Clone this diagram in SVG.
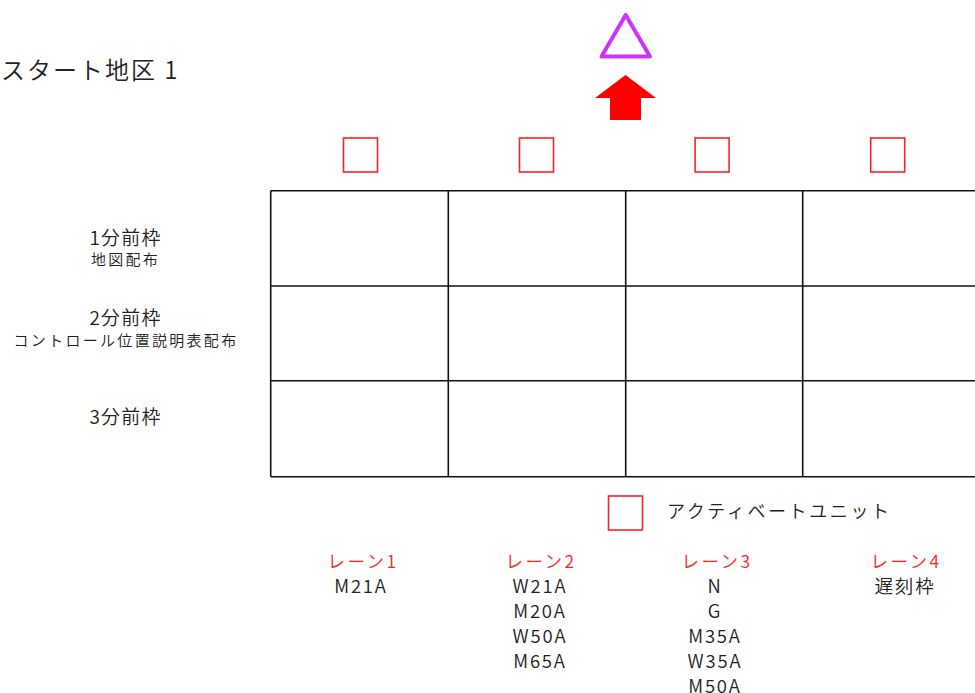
<svg xmlns="http://www.w3.org/2000/svg" width="975" height="693" viewBox="0 0 975 693">
<style>
text{font-family:"Noto Sans CJK JP","Noto Sans",sans-serif;fill:#222;font-weight:350;}
.title{font-size:24px;letter-spacing:2px;}
.row{font-size:19px;text-anchor:middle;letter-spacing:1.2px;}
.sub{font-size:15px;text-anchor:middle;letter-spacing:2.3px;}
.lane{font-size:17.5px;text-anchor:middle;fill:#f22;letter-spacing:2.4px;}
.item{font-size:18.5px;text-anchor:middle;letter-spacing:1.8px;}
.legend{font-size:18px;letter-spacing:2.6px;}
.unit{fill:none;stroke:#f22;stroke-width:1.6;}
.grid{fill:none;stroke:#111;stroke-width:1.6;}
</style>
<rect width="975" height="693" fill="#fff"/>
<g id="title"><text class="title" x="1" y="79">スタート地区 1</text></g>
<g id="goal-triangle"><polygon points="625.7,15 601.5,56.5 650,56.5" fill="none" stroke="#cc33ff" stroke-width="4" stroke-linejoin="round"/></g>
<g id="direction-arrow"><polygon points="625.5,75 656,98 641,98 641,120 610,120 610,98 595,98" fill="#ff0000"/></g>
<g id="units">
<rect class="unit" x="343.5" y="138" width="34" height="34"/>
<rect class="unit" x="519.5" y="138" width="34" height="34"/>
<rect class="unit" x="695.1" y="138" width="34" height="34"/>
<rect class="unit" x="870.7" y="138" width="34" height="34"/>
</g>
<g id="grid">
<line class="grid" x1="270.7" y1="190.7" x2="975" y2="190.7"/>
<line class="grid" x1="270.7" y1="286" x2="975" y2="286"/>
<line class="grid" x1="270.7" y1="380.7" x2="975" y2="380.7"/>
<line class="grid" x1="270.7" y1="476.7" x2="975" y2="476.7"/>
<line class="grid" x1="270.7" y1="190.7" x2="270.7" y2="476.7"/>
<line class="grid" x1="448.3" y1="190.7" x2="448.3" y2="476.7"/>
<line class="grid" x1="625.7" y1="190.7" x2="625.7" y2="476.7"/>
<line class="grid" x1="802.7" y1="190.7" x2="802.7" y2="476.7"/>
</g>
<g id="row-labels">
<text class="row" x="125.5" y="245">1分前枠</text>
<text class="sub" x="125.5" y="265">地図配布</text>
<text class="row" x="125.5" y="325">2分前枠</text>
<text class="sub" x="126" y="346">コントロール位置説明表配布</text>
<text class="row" x="125.5" y="424">3分前枠</text>
</g>
<g id="legend">
<rect class="unit" x="608.5" y="496" width="34" height="34"/>
<text class="legend" x="667" y="518">アクティベートユニット</text>
</g>
<g id="lane1">
<text class="lane" x="363" y="568">レーン1</text>
<text class="item" x="361" y="593">M21A</text>
</g>
<g id="lane2">
<text class="lane" x="541" y="568">レーン2</text>
<text class="item" x="540" y="593">W21A</text>
<text class="item" x="540" y="618">M20A</text>
<text class="item" x="540" y="643">W50A</text>
<text class="item" x="540" y="668">M65A</text>
</g>
<g id="lane3">
<text class="lane" x="717" y="568">レーン3</text>
<text class="item" x="715" y="593">N</text>
<text class="item" x="715" y="618">G</text>
<text class="item" x="715" y="643">M35A</text>
<text class="item" x="715" y="668">W35A</text>
<text class="item" x="715" y="693">M50A</text>
</g>
<g id="lane4">
<text class="lane" x="906" y="568">レーン4</text>
<text class="item" x="905" y="593">遅刻枠</text>
</g>
</svg>
